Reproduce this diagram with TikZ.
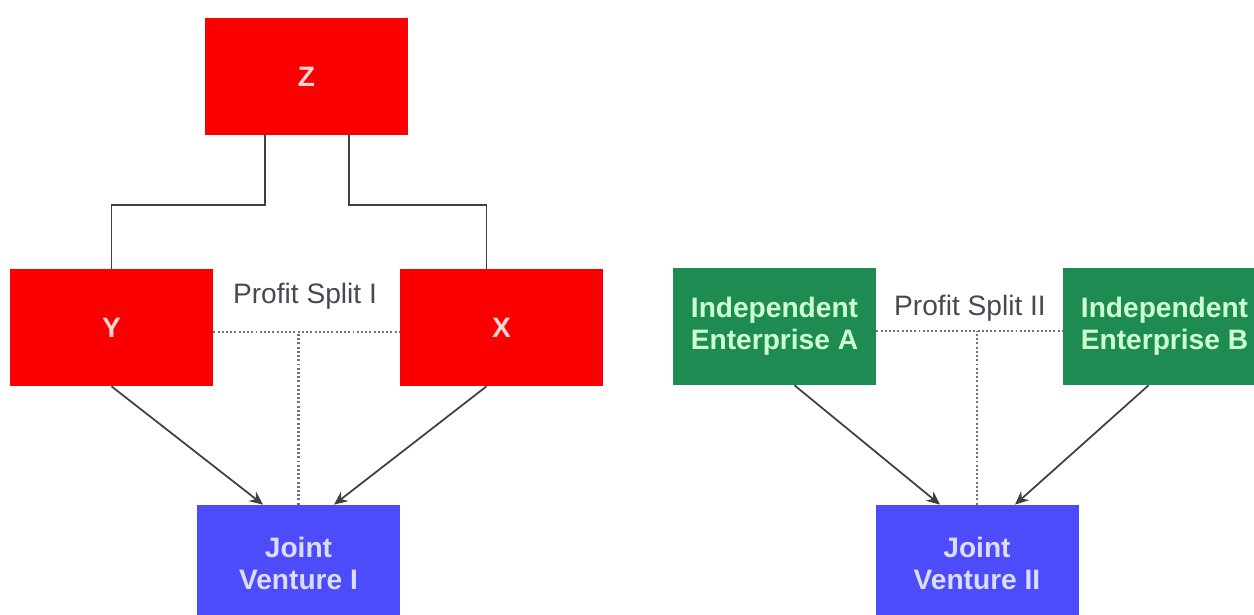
\documentclass[tikz,border=0pt]{standalone}
\usepackage{fontspec}
\setmainfont{Liberation Sans}
\usetikzlibrary{arrows.meta}

\definecolor{boxred}{RGB}{250,0,0}
\definecolor{boxgreen}{RGB}{30,140,82}
\definecolor{boxblue}{RGB}{76,76,250}
\definecolor{redtext}{RGB}{255,214,214}
\definecolor{greentext}{RGB}{204,255,204}
\definecolor{bluetext}{RGB}{220,220,255}
\definecolor{labelgray}{RGB}{72,72,82}

\begin{document}
\begin{tikzpicture}[
  box/.style={minimum width=4.06cm, minimum height=2.34cm, inner sep=0pt, align=center,
    font=\fontsize{16}{18}\selectfont\bfseries},
  redbox/.style={box, fill=boxred, text=redtext},
  greenbox/.style={box, fill=boxgreen, text=greentext},
  bluebox/.style={box, fill=boxblue, text=bluetext},
  splitlabel/.style={text=labelgray, font=\fontsize{16}{18}\selectfont},
  link/.style={draw=black!75, line width=1pt},
  flow/.style={link, -{Stealth[length=2.7mm, width=2.4mm]}},
  split/.style={draw=black!55, line width=1.2pt, dash pattern=on 1.1pt off 1.3pt}]
\useasboundingbox (0,0) rectangle (25.08,12.3);
\clip (0,0) rectangle (25.08,12.3);

% left group
\node [redbox] (Z) at (6.13, 10.77) {Z};
\node [redbox] (Y) at (2.23, 5.75) {Y};
\node [redbox] (X) at (10.03, 5.75) {X};
\node [bluebox] (jv1) at (5.97, 1.03) {Joint\\Venture I};
\node [splitlabel] (ps1) at (6.1, 6.38) {Profit Split I};
\coordinate (m1) at (5.97, 5.66);

\draw [link] ([xshift=-0.83cm]Z.south) -- ++(0,-1.4) -| (Y.north);
\draw [link] ([xshift=0.85cm]Z.south) -- ++(0,-1.4) -| ([xshift=-0.3cm]X.north);
\draw [split] (Y.east |- m1) -- (X.west |- m1);
\draw [split] (jv1.north) -- (m1);
\draw [flow] (Y.south) -- ([xshift=-0.71cm]jv1.north);
\draw [flow] ([xshift=-0.3cm]X.south) -- ([xshift=0.71cm]jv1.north);

% right group
\node [greenbox] (A) at (15.49, 5.77) {Independent\\Enterprise A};
\node [greenbox] (B) at (23.29, 5.77) {Independent\\Enterprise B};
\node [bluebox] (jv2) at (19.54, 1.03) {Joint\\Venture II};
\node [splitlabel] (ps2) at (19.4, 6.14) {Profit Split II};
\coordinate (m2) at (19.54, 5.68);

\draw [split] (A.east |- m2) -- (B.west |- m2);
\draw [split] (jv2.north) -- (m2);
\draw [flow] ([xshift=0.4cm]A.south) -- ([xshift=-0.74cm]jv2.north);
\draw [flow] ([xshift=-0.32cm]B.south) -- ([xshift=0.76cm]jv2.north);
\end{tikzpicture}
\end{document}
